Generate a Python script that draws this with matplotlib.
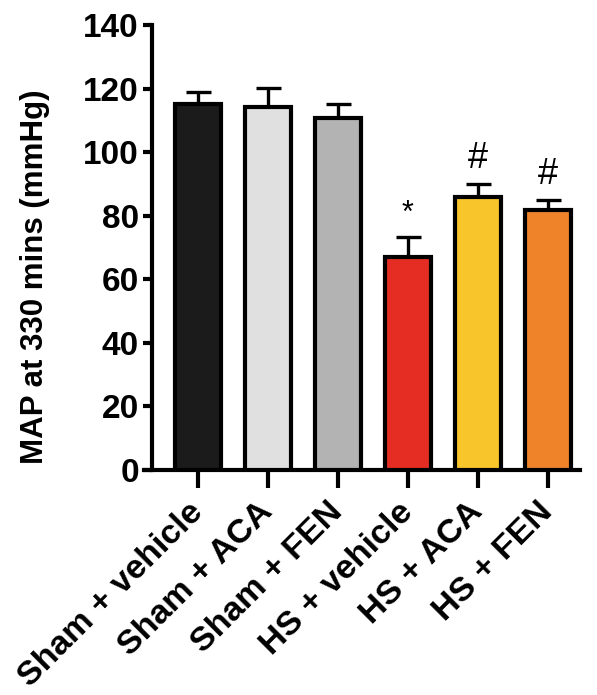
import matplotlib.pyplot as plt
import numpy as np

plt.rcParams['font.family'] = ['Liberation Sans', 'DejaVu Sans']
plt.rcParams['font.weight'] = 'bold'

groups = ["Sham + vehicle", "Sham + ACA", "Sham + FEN", "HS + vehicle", "HS + ACA", "HS + FEN"]
map_mean = [115.2, 114.1, 110.8, 67.1, 85.8, 81.8]
map_sem = [3.8, 6.1, 4.5, 6.1, 4.1, 3.1]
marks = ["", "", "", "*", "#", "#"]
colors = ["#1b1b1b", "#e0e0e0", "#b3b3b3", "#e52d24", "#f8c52b", "#ee832a"]

fig = plt.figure(figsize=(5.97, 6.95), dpi=100)
ax = fig.add_axes([144 / 597, 1 - 470 / 695, 436 / 597, 445 / 695])

x = np.arange(len(groups))
lw = 3.0
ax.bar(x, map_mean, width=0.66, color=colors, edgecolor="black", linewidth=lw, zorder=3)
ax.errorbar(x, map_mean, yerr=[np.zeros(len(x)), map_sem], fmt="none", ecolor="black",
            elinewidth=lw * 0.8, capsize=9, capthick=lw * 0.8, zorder=2)

for xi, m, s, t in zip(x, map_mean, map_sem, marks):
    if not t:
        continue
    fs = 22 if t == "*" else 26
    ax.annotate(t, (xi, m + s), xytext=(0, 6), textcoords="offset points",
                ha="center", va="bottom", fontsize=fs, fontweight="normal")

x0 = -54 / 70
ax.set_xlim(x0, x0 + 436 / 70)
ax.set_ylim(0, 140)
ax.set_yticks(np.arange(0, 141, 20))
ax.set_xticks(x)
ax.set_xticklabels(groups, rotation=45, ha="right", va="center", rotation_mode="anchor",
                   fontsize=24.5)
ax.set_ylabel("MAP at 330 mins (mmHg)", fontsize=22.5, fontweight="bold")
ax.yaxis.set_label_coords(-0.215, 0.434)

for side in ["top", "right"]:
    ax.spines[side].set_visible(False)
ax.spines["left"].set_position(("data", x0 + 8 / 70))
ax.spines["left"].set_linewidth(lw)
ax.spines["bottom"].set_linewidth(lw)
ax.spines["left"].set_bounds(0, 140)
ax.tick_params(axis="y", length=6.5, width=lw, labelsize=24, pad=3)
ax.tick_params(axis="x", length=13, width=lw, pad=14)

fig.savefig("out.png", dpi=100)
